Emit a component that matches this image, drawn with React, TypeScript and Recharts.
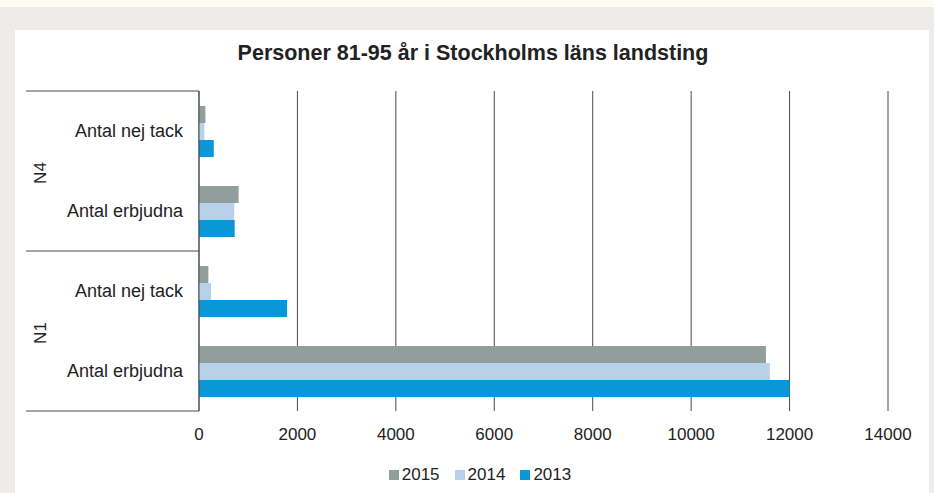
import React from 'react';
import { BarChart, Bar, XAxis, YAxis, CartesianGrid, Legend } from 'recharts';

const categories = ['Antal nej tack', 'Antal erbjudna', 'Antal nej tack', 'Antal erbjudna'];
const groups = ['N4', 'N4', 'N1', 'N1'];
const values2015 = [130, 805, 190, 11520];
const values2014 = [110, 715, 245, 11600];
const values2013 = [300, 725, 1790, 12000];
const xTicks = [0, 2000, 4000, 6000, 8000, 10000, 12000, 14000];
const seriesNames = ['2015', '2014', '2013'];
const seriesColors = ['#909F9B', '#B9D0EA', '#0A97D7'];

const data = categories.map((c, i) => ({
  cat: c,
  group: groups[i],
  '2015': values2015[i],
  '2014': values2014[i],
  '2013': values2013[i],
}));

const W = 934;
const H = 493;
const TOP = 91;
const PLOT_H = 320;
const FONT = '"Liberation Sans", Arial, sans-serif';
const LINE = '#4a4a4a';

const YTick = (props: any) => {
  const { x, y, index } = props;
  const band = PLOT_H / data.length;
  const row = data[index];
  const axisX = x + 16;
  const first = index === 0 || data[index - 1].group !== row.group;
  const last = index === data.length - 1;
  const gy = y + band / 2 + 2;
  return (
    <g>
      <text x={x} y={y} dy="0.35em" textAnchor="end" fontSize={18} fill="#222" fontFamily={FONT}>
        {row.cat}
      </text>
      {first && (
        <>
          <line x1={26} x2={axisX} y1={y - band / 2} y2={y - band / 2} stroke={LINE} strokeWidth={1} />
          <text
            x={40}
            y={gy}
            dy="0.35em"
            textAnchor="middle"
            fontSize={17}
            fill="#222"
            fontFamily={FONT}
            transform={`rotate(-90 40 ${gy})`}
          >
            {row.group}
          </text>
        </>
      )}
      {last && <line x1={26} x2={axisX} y1={y + band / 2} y2={y + band / 2} stroke={LINE} strokeWidth={1} />}
    </g>
  );
};

const LegendContent = () => (
  <div style={{ display: 'flex', justifyContent: 'center', height: 18, lineHeight: '18px', fontFamily: FONT, fontSize: 17, color: '#222', paddingLeft: 41 }}>
    {seriesNames.map((n, i) => (
      <div key={n} style={{ display: 'flex', alignItems: 'center', marginRight: 15 }}>
        <span style={{ display: 'inline-block', width: 10, height: 10, background: seriesColors[i], marginRight: 3 }} />
        <span>{n}</span>
      </div>
    ))}
  </div>
);

export default function App() {
  return (
    <div style={{ position: 'absolute', left: 0, top: 0, width: W, height: H, background: '#EEEBE8', overflow: 'hidden' }}>
      <div style={{ position: 'absolute', left: 0, top: 0, width: W, height: 7, background: '#FDFCF3' }} />
      <div style={{ position: 'absolute', left: 15, top: 30, width: 914, height: 470, background: '#FFFFFF' }} />
      <div
        style={{
          position: 'absolute',
          left: 15,
          top: 40.5,
          width: 916,
          textAlign: 'center',
          fontFamily: FONT,
          fontWeight: 'bold',
          fontSize: 21.5,
          lineHeight: '24px',
          color: '#222',
          whiteSpace: 'nowrap',
        }}
      >
        Personer 81-95 år i Stockholms läns landsting
      </div>
      <div style={{ position: 'absolute', left: 0, top: 0 }}>
        <BarChart
          width={W}
          height={H}
          data={data}
          layout="vertical"
          margin={{ top: TOP, right: 46, left: 0, bottom: 34 }}
          barGap={0}
        >
          <CartesianGrid horizontal={false} vertical={true} stroke={LINE} strokeWidth={1} />
          <XAxis
            type="number"
            domain={[0, 14000]}
            ticks={xTicks}
            axisLine={false}
            tickLine={false}
            tickSize={6}
            tickMargin={11}
            height={30}
            interval={0}
            tick={{ fontSize: 17, fill: '#222', fontFamily: FONT }}
          />
          <YAxis
            type="category"
            dataKey="cat"
            width={199}
            axisLine={{ stroke: LINE, strokeWidth: 1 }}
            tickLine={false}
            tickSize={6}
            tickMargin={10}
            interval={0}
            tick={<YTick />}
          />
          <Legend
            verticalAlign="bottom"
            content={<LegendContent />}
            wrapperStyle={{ top: 466, bottom: 'auto', left: 0, width: W }}
          />
          {seriesNames.map((n, i) => (
            <Bar key={n} dataKey={n} name={n} fill={seriesColors[i]} barSize={17} isAnimationActive={false} />
          ))}
        </BarChart>
      </div>
    </div>
  );
}
